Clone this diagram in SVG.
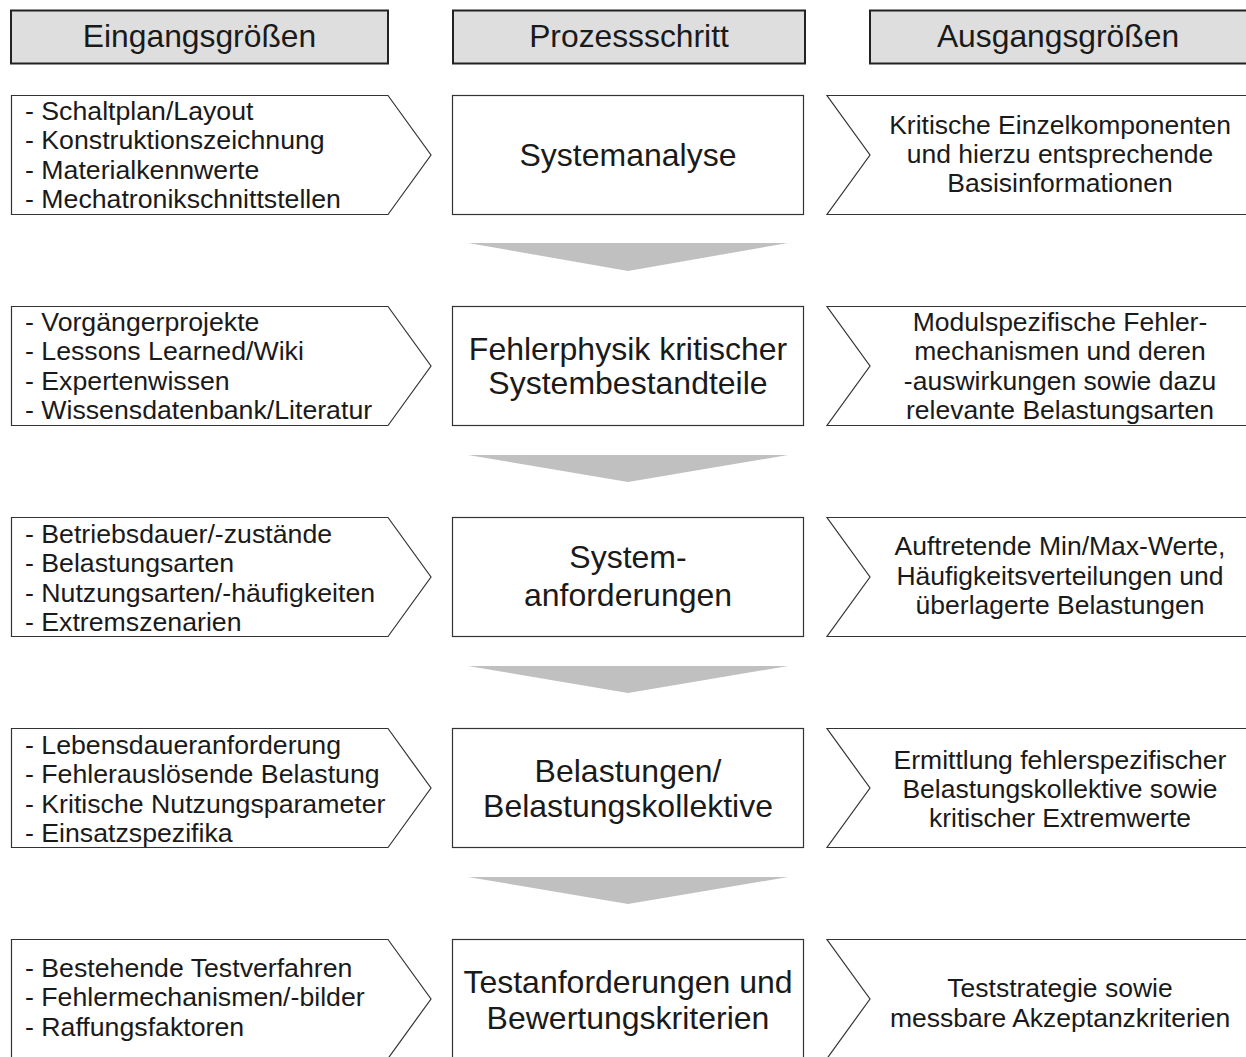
<svg xmlns="http://www.w3.org/2000/svg" width="1246" height="1057" viewBox="0 0 1246 1057">
<style>
text{font-family:"Liberation Sans",Arial,sans-serif;fill:#1a1a1a}
.hdr{fill:#dedede;stroke:#222;stroke-width:2}
.ht{font-size:31.8px;text-anchor:middle}
.box{fill:#fff;stroke:#333;stroke-width:1.2}
.mt{font-size:32px;text-anchor:middle}
.lt{font-size:26.7px}
.rt{font-size:26.5px;text-anchor:middle}
.arr{fill:#c0c0c0}
</style>
<rect width="1246" height="1057" fill="#fff"/>
<g id="header-eingang"><rect class="hdr" x="11" y="10.5" width="377" height="53"/><text class="ht" x="199.5" y="47">Eingangsgrößen</text></g>
<g id="header-prozess"><rect class="hdr" x="453" y="10.5" width="352" height="53"/><text class="ht" x="629" y="47">Prozessschritt</text></g>
<g id="header-ausgang"><rect class="hdr" x="870" y="10.5" width="380" height="53"/><text class="ht" x="1058" y="47">Ausgangsgrößen</text></g>

<g id="connectors">
<polygon class="arr" points="468,243 788,243 628,271"/>
<polygon class="arr" points="468,455 788,455 628,482"/>
<polygon class="arr" points="468,666 788,666 628,693"/>
<polygon class="arr" points="468,877 788,877 628,904"/>
</g>

<g id="in1"><polygon class="box" points="11.5,95.5 388,95.5 431,155 388,214.5 11.5,214.5"/>
<text class="lt"><tspan x="25" y="119.5">- Schaltplan/Layout</tspan><tspan x="25" y="149">- Konstruktionszeichnung</tspan><tspan x="25" y="178.5">- Materialkennwerte</tspan><tspan x="25" y="208">- Mechatronikschnittstellen</tspan></text></g>
<g id="step1"><rect class="box" x="452.5" y="95.5" width="351" height="119"/><text class="mt" x="628" y="165.5">Systemanalyse</text></g>
<g id="out1"><polygon class="box" points="1250,95.5 827,95.5 870,155 827,214.5 1250,214.5"/>
<text class="rt"><tspan x="1060" y="134">Kritische Einzelkomponenten</tspan><tspan x="1060" y="163">und hierzu entsprechende</tspan><tspan x="1060" y="192">Basisinformationen</tspan></text></g>

<g id="in2"><polygon class="box" points="11.5,306.5 388,306.5 431,366 388,425.5 11.5,425.5"/>
<text class="lt"><tspan x="25" y="330.5">- Vorgängerprojekte</tspan><tspan x="25" y="360">- Lessons Learned/Wiki</tspan><tspan x="25" y="389.5">- Expertenwissen</tspan><tspan x="25" y="419">- Wissensdatenbank/Literatur</tspan></text></g>
<g id="step2"><rect class="box" x="452.5" y="306.5" width="351" height="119"/><text class="mt"><tspan x="628" y="359.5">Fehlerphysik kritischer</tspan><tspan x="628" y="394">Systembestandteile</tspan></text></g>
<g id="out2"><polygon class="box" points="1250,306.5 827,306.5 870,366 827,425.5 1250,425.5"/>
<text class="rt"><tspan x="1060" y="331">Modulspezifische Fehler-</tspan><tspan x="1060" y="360">mechanismen und deren</tspan><tspan x="1060" y="389.5">-auswirkungen sowie dazu</tspan><tspan x="1060" y="419">relevante Belastungsarten</tspan></text></g>

<g id="in3"><polygon class="box" points="11.5,517.5 388,517.5 431,577 388,636.5 11.5,636.5"/>
<text class="lt"><tspan x="25" y="542.5">- Betriebsdauer/-zustände</tspan><tspan x="25" y="572">- Belastungsarten</tspan><tspan x="25" y="601.5">- Nutzungsarten/-häufigkeiten</tspan><tspan x="25" y="631">- Extremszenarien</tspan></text></g>
<g id="step3"><rect class="box" x="452.5" y="517.5" width="351" height="119"/><text class="mt"><tspan x="628" y="568">System-</tspan><tspan x="628" y="606">anforderungen</tspan></text></g>
<g id="out3"><polygon class="box" points="1250,517.5 827,517.5 870,577 827,636.5 1250,636.5"/>
<text class="rt"><tspan x="1060" y="555">Auftretende Min/Max-Werte,</tspan><tspan x="1060" y="584.5">Häufigkeitsverteilungen und</tspan><tspan x="1060" y="613.5">überlagerte Belastungen</tspan></text></g>

<g id="in4"><polygon class="box" points="11.5,728.5 388,728.5 431,788 388,847.5 11.5,847.5"/>
<text class="lt"><tspan x="25" y="753.5">- Lebensdaueranforderung</tspan><tspan x="25" y="783">- Fehlerauslösende Belastung</tspan><tspan x="25" y="812.5">- Kritische Nutzungsparameter</tspan><tspan x="25" y="842">- Einsatzspezifika</tspan></text></g>
<g id="step4"><rect class="box" x="452.5" y="728.5" width="351" height="119"/><text class="mt"><tspan x="628" y="782">Belastungen/</tspan><tspan x="628" y="817">Belastungskollektive</tspan></text></g>
<g id="out4"><polygon class="box" points="1250,728.5 827,728.5 870,788 827,847.5 1250,847.5"/>
<text class="rt"><tspan x="1060" y="769">Ermittlung fehlerspezifischer</tspan><tspan x="1060" y="798">Belastungskollektive sowie</tspan><tspan x="1060" y="827">kritischer Extremwerte</tspan></text></g>

<g id="in5"><polygon class="box" points="11.5,939.5 388,939.5 431,999 388,1058.5 11.5,1058.5"/>
<text class="lt"><tspan x="25" y="976.5">- Bestehende Testverfahren</tspan><tspan x="25" y="1006">- Fehlermechanismen/-bilder</tspan><tspan x="25" y="1035.5">- Raffungsfaktoren</tspan></text></g>
<g id="step5"><rect class="box" x="452.5" y="939.5" width="351" height="119"/><text class="mt"><tspan x="628" y="993">Testanforderungen und</tspan><tspan x="628" y="1029">Bewertungskriterien</tspan></text></g>
<g id="out5"><polygon class="box" points="1250,939.5 827,939.5 870,999 827,1058.5 1250,1058.5"/>
<text class="rt"><tspan x="1060" y="997">Teststrategie sowie</tspan><tspan x="1060" y="1027">messbare Akzeptanzkriterien</tspan></text></g>
</svg>
